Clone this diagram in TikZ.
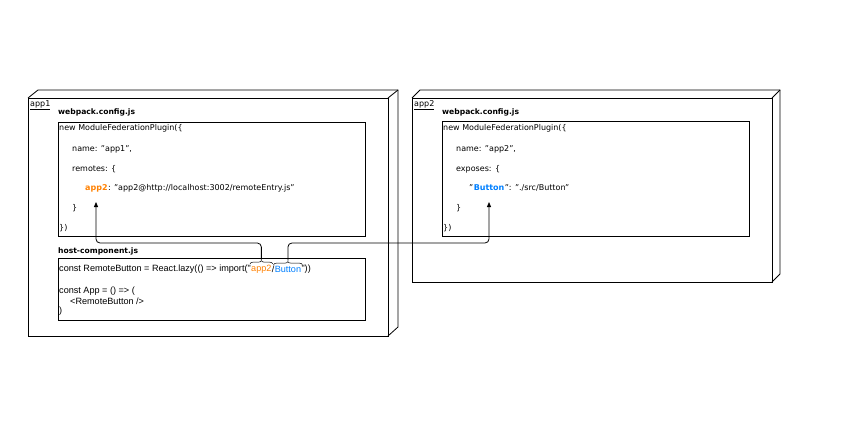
\documentclass[tikz,border=0pt]{standalone}
\usepackage{fontspec}
\setmainfont{DejaVu Sans}
\newfontfamily\arialf{Liberation Sans}
\usetikzlibrary{decorations.pathreplacing,arrows.meta}
\definecolor{orng}{HTML}{FF8000}
\definecolor{blu}{HTML}{007FFF}
\begin{document}
\begin{tikzpicture}[x=1pt,y=-1pt,
  box/.style={draw,line width=0.8pt},
  code/.style={anchor=west,inner sep=0pt,font=\fontsize{8}{9}\selectfont},
  hcode/.style={anchor=west,inner sep=0pt,font=\arialf\fontsize{9.1}{10}\selectfont},
  lbl/.style={anchor=west,inner sep=0pt,font=\bfseries\fontsize{7.6}{9}\selectfont},
  conn/.style={draw,line width=0.8pt,rounded corners=4pt,-{Triangle[length=5pt,width=4pt]}},
  br/.style={decorate,decoration={brace,amplitude=3pt},line width=0.5pt}]
\useasboundingbox (0,0) rectangle (850,425);
% left node
\draw[box] (28,98) rectangle (388,336);
\draw[box] (28,98) -- (38,90) -- (398,90) -- (398,327) -- (388,336);
\draw[box] (388,98) -- (398,90);
\node[anchor=west,inner sep=0pt,font=\fontsize{8}{9}\selectfont] (l1) at (30,105) {\underline{app1}};
\node[lbl] (w1) at (58,112) {webpack.config.js};
\node[box,minimum width=307pt,minimum height=114pt,anchor=north west] (c1) at (58,122) {};
\node[code] at (59,128) {new ModuleFederationPlugin(\{};
\node[code] at (72,149) {name: "app1",};
\node[code] at (72,169) {remotes: \{};
\node[code,text=orng,font=\bfseries\fontsize{8}{9}\selectfont] (k1) at (85,188) {app2};
\node[code] at (k1.east) {: "app2@http://localhost:3002/remoteEntry.js"};
\node[code] at (72,208) {\}};
\node[code] at (59,228) {\})};
\node[lbl] (h1) at (58,251) {host-component.js};
\node[box,minimum width=307pt,minimum height=62pt,anchor=north west] (c2) at (58,258) {};
\node[hcode] (p1) at (59,269) {const RemoteButton = React.lazy(() => import("};
\node[hcode,text=orng] (ia) at (p1.east) {app2};
\node[hcode] (sl) at (ia.east) {/};
\node[hcode,text=blu] (ib) at (sl.east) {Button};
\node[hcode] at (ib.east) {"))};
\node[hcode] at (59,291) {const App = () => (};
\node[hcode] at (70,301) {<RemoteButton />};
\node[hcode] at (59,311) {)};
\draw[br] ([xshift=-1pt,yshift=1pt]ia.north west) -- ([xshift=1pt,yshift=1pt]ia.north east) coordinate[midway,yshift=4pt] (ta);
\draw[br] ([xshift=-1pt,yshift=1pt]ib.north west) -- ([xshift=1pt,yshift=1pt]ib.north east) coordinate[midway,yshift=4pt] (tb);
% right node
\draw[box] (412,98) rectangle (772,282);
\draw[box] (412,98) -- (420,90) -- (780,90) -- (780,274) -- (772,282);
\draw[box] (772,98) -- (780,90);
\node[anchor=west,inner sep=0pt,font=\fontsize{8}{9}\selectfont] (l2) at (414,105) {\underline{app2}};
\node[lbl] (w2) at (442,112) {webpack.config.js};
\node[box,minimum width=307pt,minimum height=115pt,anchor=north west] (c3) at (442,121) {};
\node[code] at (443,128) {new ModuleFederationPlugin(\{};
\node[code] at (456,149) {name: "app2",};
\node[code] at (456,169) {exposes: \{};
\node[code] (q1) at (469,188) {"};
\node[code,text=blu,font=\bfseries\fontsize{8}{9}\selectfont] (k2) at (q1.east) {Button};
\node[code] at (k2.east) {": "./src/Button"};
\node[code] at (456,208) {\}};
\node[code] at (443,228) {\})};
% connectors
\draw[conn] (ta) |- (96,243) -- (96,202);
\draw[conn] (tb) |- (489,243) -- (489,202);
\end{tikzpicture}
\end{document}
